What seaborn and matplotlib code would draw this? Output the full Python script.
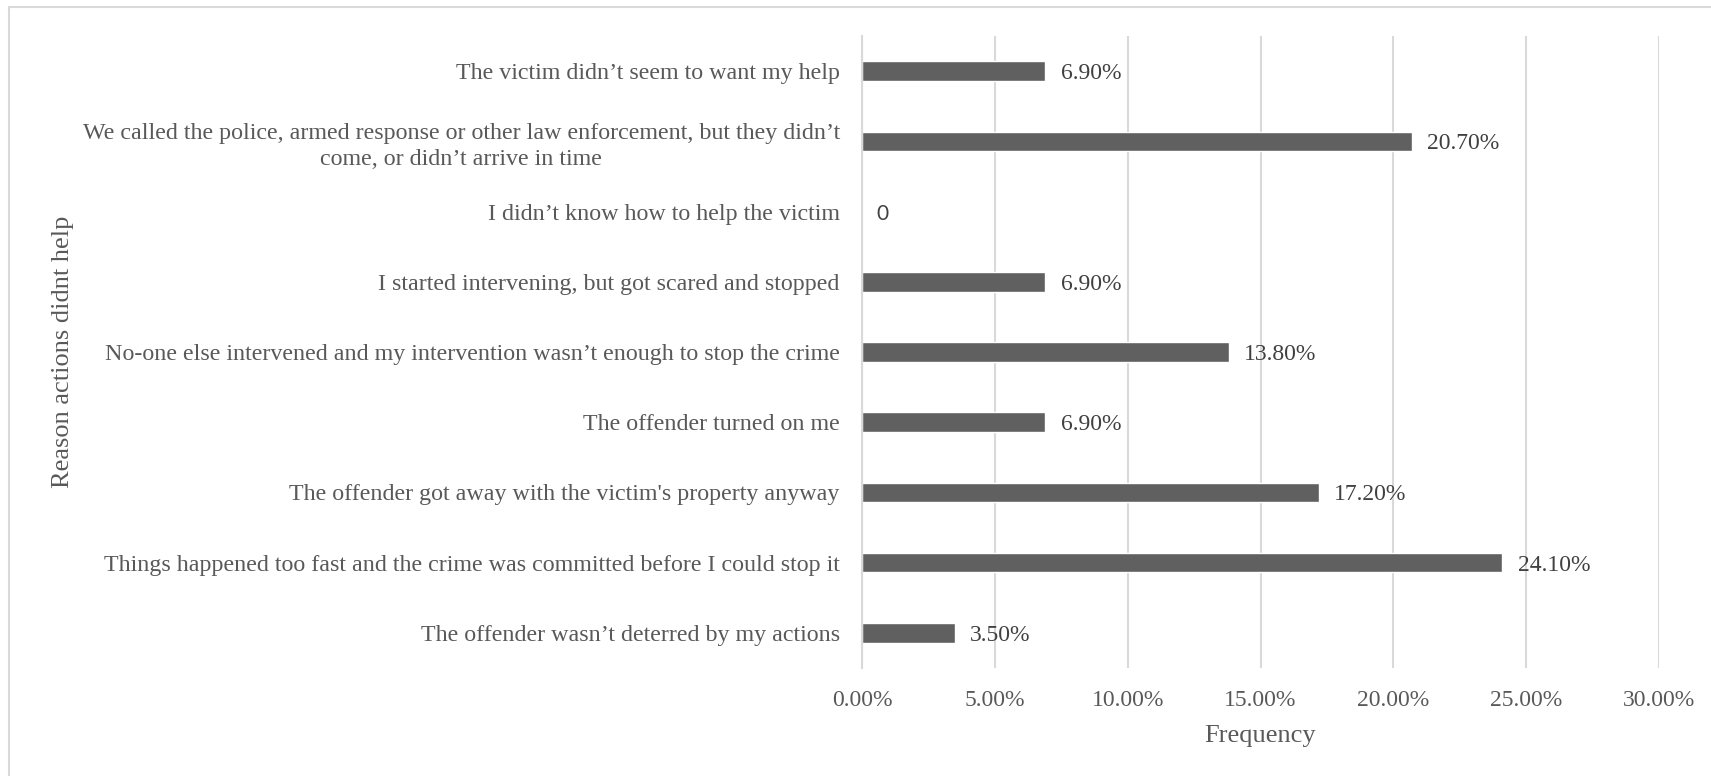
import matplotlib
matplotlib.use("Agg")
import matplotlib.pyplot as plt
from matplotlib.lines import Line2D
import seaborn as sns
import pandas as pd

reasons = [
    "The victim didn\u2019t seem to want my help",
    "We called the police, armed response or other law enforcement, but they didn\u2019t\ncome, or didn\u2019t arrive in time",
    "I didn\u2019t know how to help the victim",
    "I started intervening, but got scared and stopped",
    "No-one else intervened and my intervention wasn\u2019t enough to stop the crime",
    "The offender turned on me",
    "The offender got away with the victim's property anyway",
    "Things happened too fast and the crime was committed before I could stop it",
    "The offender wasn\u2019t deterred by my actions",
]
frequency = [6.9, 20.7, 0.0, 6.9, 13.8, 6.9, 17.2, 24.1, 3.5]
x_ticks = [0, 5, 10, 15, 20, 25, 30]

df = pd.DataFrame({"reason": reasons, "frequency": frequency})

sns.set_theme(style="white")
plt.rcParams["font.family"] = ["Liberation Serif", "DejaVu Serif"]

W, H = 1711, 776
fig = plt.figure(figsize=(W / 100, H / 100), dpi=100)
ax = fig.add_axes([862 / W, 1 - 668 / H, (1659 - 862) / W, (668 - 36) / H])

text_grey = "#595959"
grid_grey = "#d9d9d9"

sns.barplot(data=df, x="frequency", y="reason", orient="h", order=reasons,
            color="#606060", saturation=1, width=0.28, ax=ax, zorder=3)

ax.set_xlim(0, 30)
ax.set_ylim(len(reasons) - 0.5, -0.5)
ax.set_xticks(x_ticks)
ax.set_xticklabels([f"{t:.2f}%" for t in x_ticks])
ax.xaxis.grid(True, color=grid_grey, linewidth=1.5, zorder=0)
ax.yaxis.grid(False)
for side in ["top", "right", "bottom"]:
    ax.spines[side].set_visible(False)
ax.spines["left"].set_color(grid_grey)
ax.spines["left"].set_linewidth(1.5)
ax.spines["left"].set_zorder(4)

ax.tick_params(axis="y", length=0, pad=16, labelsize=17.25, labelcolor=text_grey)
ax.tick_params(axis="x", length=0, pad=15.5, labelsize=17, labelcolor=text_grey)
for lbl in ax.get_yticklabels():
    lbl.set_multialignment("center")
    lbl.set_linespacing(1.33)
    lbl.set_verticalalignment("center_baseline")

ax.set_xlabel("Frequency", fontsize=19, color=text_grey, labelpad=10.5)
ax.set_ylabel("Reason actions didnt help", fontsize=19, color=text_grey)
ax.yaxis.set_label_coords((74 - 862) / (1659 - 862), 0.5)

for i, v in enumerate(frequency):
    if v == 0:
        ax.annotate("0", (v, i), xytext=(10, 0), textcoords="offset points",
                    ha="left", va="center_baseline", fontsize=15, color="#404040",
                    family=["Lato", "DejaVu Sans"])
    else:
        ax.annotate(f"{v:.2f}%", (v, i), xytext=(11, 0), textcoords="offset points",
                    ha="left", va="center_baseline", fontsize=17, color="#404040")

# light chart-area frame
fig.add_artist(Line2D([9 / W, 9 / W], [0, 1 - 7 / H], transform=fig.transFigure,
                      color=grid_grey, linewidth=1.5))
fig.add_artist(Line2D([9 / W, 1], [1 - 7 / H, 1 - 7 / H], transform=fig.transFigure,
                      color=grid_grey, linewidth=1.5))

fig.savefig("out.png", dpi=100, facecolor="white")
